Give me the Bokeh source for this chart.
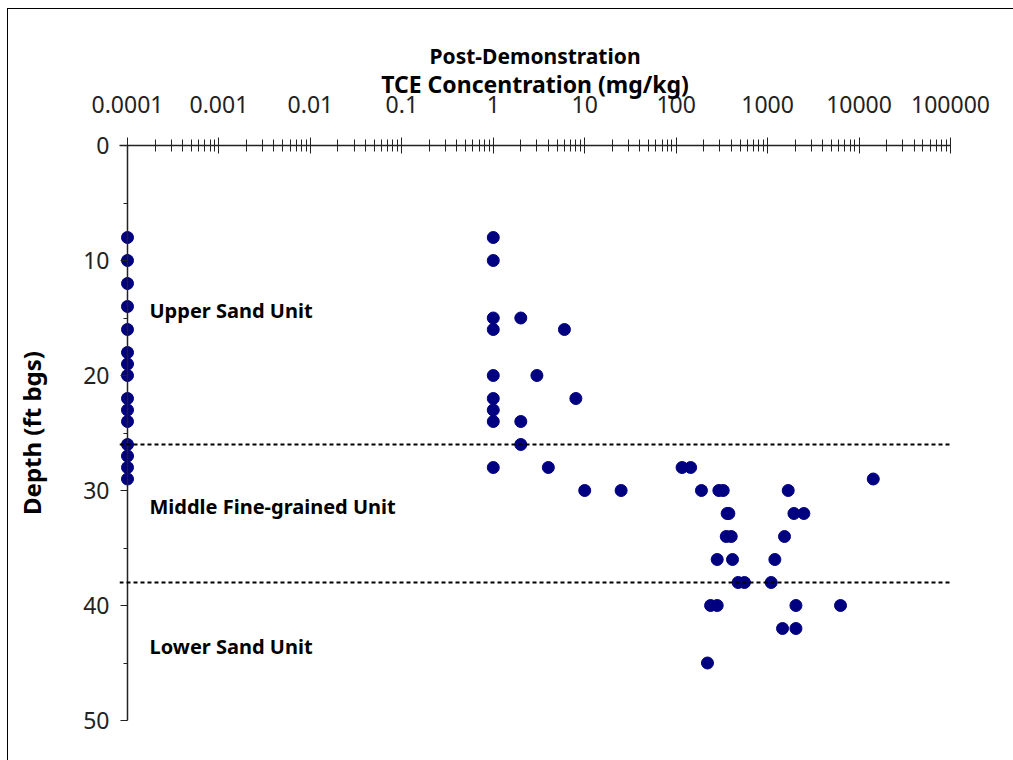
from bokeh.plotting import figure
from bokeh.models import Range1d, FixedTicker, SingleIntervalTicker, Span, ColumnDataSource
from bokeh.core.properties import value
from bokeh.embed import file_html
from bokeh.resources import INLINE

# ---- data ----
nd_depth = [8, 10, 12, 14, 16, 18, 19, 20, 22, 23, 24, 26, 27, 28, 29]
nd_conc = [0.0001] * len(nd_depth)

conc = [1, 1, 1, 1, 1, 1, 1, 1, 1,
        2, 6, 3, 8, 2, 2, 4, 10, 25,
        116, 144, 14300,
        189, 293, 327, 1680,
        361, 377, 1940, 2490,
        353, 400, 1530,
        281, 413, 1200,
        476, 558, 1094,
        238, 281, 2040, 6270,
        1456, 2040,
        220]
depth = [8, 10, 15, 16, 20, 22, 23, 24, 28,
         15, 16, 20, 22, 24, 26, 28, 30, 30,
         28, 28, 29,
         30, 30, 30, 30,
         32, 32, 32, 32,
         34, 34, 34,
         36, 36, 36,
         38, 38, 38,
         40, 40, 40, 40,
         42, 42,
         45]

tick_values = [1e-4, 1e-3, 1e-2, 1e-1, 1, 10, 100, 1000, 10000, 100000]
tick_labels = ["0.0001", "0.001", "0.01", "0.1", "1", "10", "100", "1000", "10000", "100000"]
title_line1 = "Post-Demonstration"
title_line2 = "TCE Concentration (mg/kg)"
y_title = "Depth (ft bgs)"
unit_names = ["Upper Sand Unit", "Middle Fine-grained Unit", "Lower Sand Unit"]
unit_depths = [14.35, 31.4, 43.6]
boundaries = [26, 38]
x_min = 1e-4

FONT = "Noto Sans"
PAD_DECADES = 8 / 91.44   # small room left of the y axis so edge markers are not clipped

p = figure(width=1006, height=752, x_axis_type="log", x_axis_location="above",
           x_range=Range1d(10 ** (-4 - PAD_DECADES), 1e5), y_range=Range1d(50, 0),
           output_backend="svg", toolbar_location=None,
           min_border_left=111, min_border_right=64, min_border_top=136, min_border_bottom=41)
p.styles = {"margin-left": "7px", "margin-top": "8px",
            "border-left": "1px solid black", "border-top": "1px solid black"}

p.title.text = title_line1
p.title.align = "center"
p.title.text_font = FONT
p.title.text_font_style = "bold"
p.title.text_font_size = "21px"
p.title.text_color = "black"
p.title.standoff = -11

p.xgrid.visible = False
p.ygrid.visible = False
p.outline_line_color = None
p.background_fill_color = "white"
p.border_fill_color = "white"

minor = []
for v in tick_values[:-1]:
    for k in range(2, 10):
        minor.append(v * k)

xa = p.xaxis[0]
xa.ticker = FixedTicker(ticks=tick_values, minor_ticks=minor)
xa.major_label_overrides = {v: s for v, s in zip(tick_values, tick_labels)}
xa.axis_label = title_line2
xa.axis_label_text_font = FONT
xa.axis_label_text_font_style = "bold"
xa.axis_label_text_font_size = "23px"
xa.axis_label_text_color = "black"
xa.axis_label_standoff = -7
xa.major_label_text_font = FONT
xa.major_label_text_font_size = "23px"
xa.major_label_text_color = "#222222"
xa.major_label_standoff = 25
xa.major_tick_in = 8
xa.major_tick_out = 8
xa.minor_tick_in = 6
xa.minor_tick_out = 6
xa.axis_line_width = 1.5
xa.axis_line_color = "#222222"
xa.major_tick_line_color = "#222222"
xa.minor_tick_line_color = "#222222"

# y axis sits on the frame edge; its line is drawn as a span at x_min (8 px inside)
ya = p.yaxis[0]
ya.ticker = SingleIntervalTicker(interval=10, num_minor_ticks=2)
ya.axis_label = y_title
ya.axis_label_text_font = FONT
ya.axis_label_text_font_style = "bold"
ya.axis_label_text_font_size = "24px"
ya.axis_label_text_color = "black"
ya.axis_label_standoff = 32
ya.major_label_text_font = FONT
ya.major_label_text_font_size = "23px"
ya.major_label_text_color = "#222222"
ya.major_label_standoff = 11
ya.major_tick_in = 8
ya.major_tick_out = -1
ya.minor_tick_in = 8
ya.minor_tick_out = -4
ya.axis_line_color = None
ya.major_tick_line_color = "#222222"
ya.minor_tick_line_color = "#222222"

p.add_layout(Span(location=x_min, dimension="height", line_color="#222222", line_width=1.5))

for b in boundaries:
    p.add_layout(Span(location=b, dimension="width", line_color="black",
                      line_width=2, line_dash="4 3"))

p.scatter(nd_conc, nd_depth, size=12, color="#000080", line_color="#000080")
p.scatter(conc, depth, size=12, color="#000080", line_color="#000080")

src = ColumnDataSource(dict(x=[1.74e-4] * len(unit_names), y=unit_depths, t=unit_names))
p.text(x="x", y="y", text="t", source=src, text_font=value(FONT), text_font_style="bold",
       text_font_size="20px", text_baseline="middle", text_align="left", text_color="black")

open("out.html", "w").write(file_html(p, INLINE))
